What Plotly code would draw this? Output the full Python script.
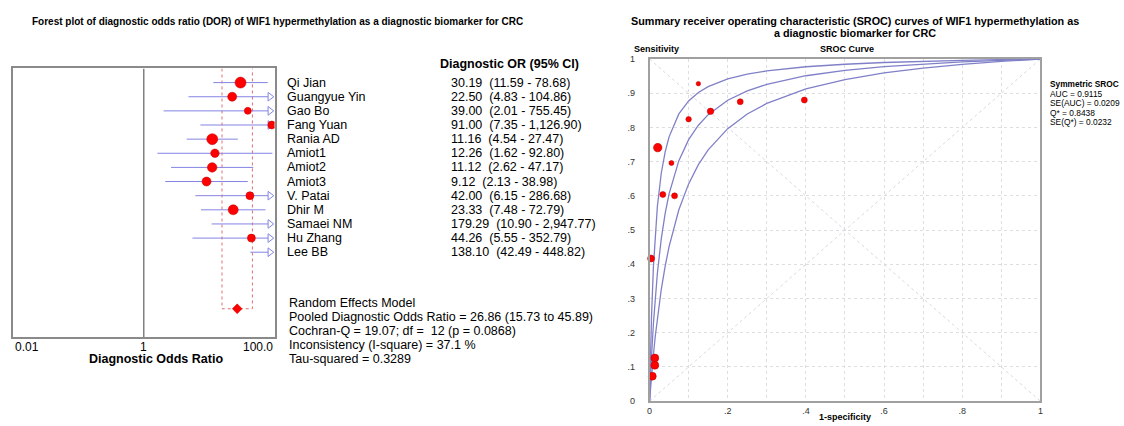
import plotly.graph_objects as go

# ---------------- DATA ----------------
studies = ["Qi Jian", "Guangyue Yin", "Gao Bo", "Fang Yuan", "Rania AD", "Amiot1", "Amiot2",
           "Amiot3", "V. Patai", "Dhir M", "Samaei NM", "Hu Zhang", "Lee BB"]
dor = [30.19, 22.50, 39.00, 91.00, 11.16, 12.26, 11.12, 9.12, 42.00, 23.33, 179.29, 44.26, 138.10]
ci_low = [11.59, 4.83, 2.01, 7.35, 4.54, 1.62, 2.62, 2.13, 6.15, 7.48, 10.90, 5.55, 42.49]
ci_high = [78.68, 104.86, 755.45, 1126.90, 27.47, 92.80, 47.17, 38.98, 286.68, 72.79, 2947.77, 352.79, 448.82]
study_weight = [11, 9, 7, 8, 11, 8.5, 9.5, 9, 8, 10, 7, 8, 9]

pooled_dor = 26.86
pooled_low = 15.73
pooled_high = 45.89
summary_lines = ["Random Effects Model",
                 "Pooled Diagnostic Odds Ratio = 26.86 (15.73 to 45.89)",
                 "Cochran-Q = 19.07; df =  12 (p = 0.0868)",
                 "Inconsistency (I-square) = 37.1 %",
                 "Tau-squared = 0.3289"]

# SROC study points (1-specificity, sensitivity)
sroc_fpr = [0.125, 0.232, 0.396, 0.156, 0.100, 0.021, 0.056, 0.034, 0.064, 0.004, 0.0135, 0.0135, 0.007]
sroc_sens = [0.928, 0.875, 0.880, 0.847, 0.824, 0.741, 0.696, 0.604, 0.600, 0.417, 0.126, 0.105, 0.073]
sroc_weight = [4.5, 6, 6, 6.5, 5.5, 8.5, 5, 6, 6, 7, 8, 8, 8]

# SROC curves
curve_fpr = [0, 0.001, 0.002, 0.005, 0.01, 0.015, 0.02, 0.03, 0.04, 0.05, 0.075, 0.1, 0.125,
             0.15, 0.2, 0.25, 0.3, 0.4, 0.5, 0.6, 0.7, 0.8, 0.9, 1.0]
curve_mid = [0, 0.0284, 0.0552, 0.1279, 0.2276, 0.3077, 0.3732, 0.4744, 0.5487, 0.6057, 0.7029,
             0.7643, 0.8065, 0.8374, 0.8794, 0.9068, 0.9260, 0.9511, 0.9669, 0.9777, 0.9855,
             0.9915, 0.9962, 1.0]
curve_upper = [0, 0.0606, 0.1145, 0.2448, 0.3945, 0.4955, 0.5683, 0.6661, 0.7288, 0.7725, 0.8395,
               0.8776, 0.9021, 0.9192, 0.9416, 0.9556, 0.9651, 0.9773, 0.9847, 0.9898, 0.9934,
               0.9961, 0.9983, 1.0]
curve_lower = [0, 0.0154, 0.0304, 0.0730, 0.1366, 0.1926, 0.2422, 0.3263, 0.3949, 0.4518, 0.5594,
               0.6350, 0.6911, 0.7343, 0.7965, 0.8392, 0.8703, 0.9126, 0.9400, 0.9592, 0.9734,
               0.9843, 0.9930, 1.0]

x2_tickvals = [0, 0.2, 0.4, 0.6, 0.8, 1.0]
x2_ticktext = ["0", ".2", ".4", ".6", ".8", "1"]
y2_tickvals = [0, 0.1, 0.2, 0.3, 0.4, 0.5, 0.6, 0.7, 0.8, 0.9, 1.0]
y2_ticktext = ["0", ".1", ".2", ".3", ".4", ".5", ".6", ".7", ".8", ".9", "1"]
sroc_stats = ["AUC = 0.9115", "SE(AUC) = 0.0209", "Q* = 0.8438", "SE(Q*) = 0.0232"]

# ---------------- STYLE ----------------
W, H = 1124, 426
FONT = "Liberation Sans, Arial, sans-serif"
AXMAX = 100.0
ARROW_AT = 10 ** 1.93
LINE_CLIP = 10 ** 1.9
WHISK = "#8484e4"
RED = "#ff0000"


def px(x):
    return x / W


def py(y):
    return 1 - y / H


rows = list(range(1, len(studies) + 1))
diamond_row = 17

fig = go.Figure()

# dashed pooled CI outline
fig.add_trace(go.Scatter(x=[pooled_low, pooled_low, pooled_high, pooled_high],
                         y=[0, diamond_row, diamond_row, 0], mode="lines",
                         line=dict(color="#e07070", width=1, dash="dot"),
                         xaxis="x", yaxis="y", hoverinfo="skip"))
# null line at 1
fig.add_trace(go.Scatter(x=[1, 1], y=[0, 19], mode="lines", line=dict(color="#808080", width=1.5),
                         xaxis="x", yaxis="y", hoverinfo="skip"))

# whiskers
wx, wy = [], []
ax, ay = [], []
for lo, hi, r in zip(ci_low, ci_high, rows):
    wx += [lo, min(hi, LINE_CLIP) if hi > AXMAX else hi, None]
    wy += [r, r, None]
    if hi > AXMAX:
        ax.append(ARROW_AT)
        ay.append(r)
fig.add_trace(go.Scatter(x=wx, y=wy, mode="lines", line=dict(color=WHISK, width=1),
                         xaxis="x", yaxis="y", hoverinfo="skip"))
fig.add_trace(go.Scatter(x=ax, y=ay, mode="markers",
                         marker=dict(symbol="triangle-right-open", size=7.5, color=WHISK, opacity=1,
                                     line=dict(color=WHISK, width=1)),
                         xaxis="x", yaxis="y", cliponaxis=False))

# points
fig.add_trace(go.Scatter(x=dor, y=rows, mode="markers",
                         marker=dict(color=RED, size=study_weight, opacity=1,
                                     line=dict(color="#c00000", width=0.5)),
                         xaxis="x", yaxis="y", cliponaxis=True))
# pooled diamond
fig.add_trace(go.Scatter(x=[pooled_dor], y=[diamond_row], mode="markers",
                         marker=dict(symbol="diamond", size=7.5, color=RED, opacity=1,
                                     line=dict(color="#d00000", width=0.5)),
                         xaxis="x", yaxis="y"))

# SROC diagonals
fig.add_trace(go.Scatter(x=[0, 1], y=[1, 0], mode="lines", line=dict(color="#d8d8e4", width=1, dash="dot"),
                         xaxis="x2", yaxis="y2", hoverinfo="skip"))
fig.add_trace(go.Scatter(x=[0, 1], y=[0, 1], mode="lines", line=dict(color="#d8d8e4", width=1, dash="dot"),
                         xaxis="x2", yaxis="y2", hoverinfo="skip"))
for cv in (curve_upper, curve_mid, curve_lower):
    fig.add_trace(go.Scatter(x=curve_fpr, y=cv, mode="lines", line=dict(color="#8080c8", width=1.3),
                             xaxis="x2", yaxis="y2", hoverinfo="skip"))
fig.add_trace(go.Scatter(x=sroc_fpr, y=sroc_sens, mode="markers",
                         marker=dict(color=RED, size=sroc_weight, opacity=1,
                                     line=dict(color="#b00000", width=0.5)),
                         xaxis="x2", yaxis="y2", cliponaxis=False))

ann = []


def text(x, y, s, size=12.5, bold=False, xanchor="left", xref="paper", yref="paper", color="black"):
    ann.append(dict(x=x, y=y, xref=xref, yref=yref, text=("<b>%s</b>" % s) if bold else s,
                    showarrow=False, xanchor=xanchor, yanchor="middle",
                    font=dict(family=FONT, size=size, color=color)))


# titles
text(px(275.5), py(17), "Forest plot of diagnostic odds ratio (DOR) of WIF1 hypermethylation as a diagnostic biomarker for CRC",
     size=10, bold=True, xanchor="center")
text(px(856.5), py(16), "Summary receiver operating characteristic (SROC) curves of WIF1 hypermethylation as",
     size=10.8, bold=True, xanchor="center")
text(px(856.5), py(29), "a diagnostic biomarker for CRC", size=10.8, bold=True, xanchor="center")

# forest table
text(px(437), py(60), "Diagnostic OR (95% CI)", size=12.5, bold=True)
for name, d, lo, hi, r in zip(studies, dor, ci_low, ci_high, rows):
    text(px(284), r, name, yref="y")
    text(px(448), r, "%.2f\u00a0 (%s - %s)" % (d, f"{lo:,.2f}", f"{hi:,.2f}"), yref="y")
for i, line in enumerate(summary_lines):
    text(px(286), py(305 + i * 14.5), line)

# forest axis labels
text(-2, py(350), "0.01", size=12, xref="x")
text(0, py(350), "1", size=12, xref="x", xanchor="center")
text(2, py(350), "100.0", size=12, xref="x", xanchor="right")
text(px(153.5), py(363), "Diagnostic Odds Ratio", size=12.5, bold=True, xanchor="center")

# SROC labels
text(px(632), py(45.5), "Sensitivity", size=9, bold=True)
text(px(849), py(45.5), "SROC Curve", size=9, bold=True, xanchor="center")
text(px(846.5), py(421.5), "1-specificity", size=9, bold=True, xanchor="center")
text(px(1051), py(81), "Symmetric SROC", size=8.3, bold=True)
for i, s in enumerate(sroc_stats):
    text(px(1051), py(91 + i * 9.7), s, size=8.4)

grid = "#dedede"
fig.update_layout(
    width=W, height=H, margin=dict(l=0, r=0, t=0, b=0),
    paper_bgcolor="white", plot_bgcolor="white", showlegend=False,
    font=dict(family=FONT, color="black"),
    annotations=ann,
    xaxis=dict(type="log", range=[-2, 2], domain=[px(10), px(273)], anchor="y",
               showgrid=False, zeroline=False, showticklabels=False, ticks="",
               showline=True, mirror=True, linecolor="#8a8a8a", linewidth=1.5),
    yaxis=dict(range=[19, 0], domain=[py(340), py(65)], anchor="x",
               showgrid=False, zeroline=False, showticklabels=False, ticks="",
               showline=True, mirror=True, linecolor="#8a8a8a", linewidth=1.5),
    xaxis2=dict(range=[0, 1], domain=[px(650), px(1043)], anchor="y2",
                tickvals=x2_tickvals, ticktext=x2_ticktext, tickfont=dict(size=9, color="#333"),
                showgrid=True, gridcolor=grid, griddash="dot", gridwidth=1, zeroline=False,
                minor=dict(dtick=0.1, tick0=0, showgrid=True, gridcolor=grid, griddash="dot", gridwidth=1),
                showline=True, mirror=True, linecolor="#a0a0a0", linewidth=1.5, ticks=""),
    yaxis2=dict(range=[0, 1], domain=[py(405.7), py(55.3)], anchor="x2",
                tickvals=y2_tickvals, ticktext=y2_ticktext, tickfont=dict(size=9, color="#333"),
                showgrid=True, gridcolor=grid, griddash="dot", gridwidth=1, zeroline=False,
                showline=True, mirror=True, linecolor="#a0a0a0", linewidth=1.5,
                ticks="outside", ticklen=11, tickcolor="rgba(0,0,0,0)"),
)

fig.write_html("out.html", config={"displayModeBar": False},
               post_script="document.body.style.margin='0';document.body.style.overflow='hidden';")
